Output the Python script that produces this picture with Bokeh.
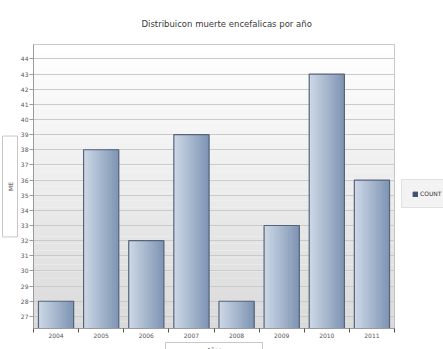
import numpy as np
from bokeh.plotting import figure
from bokeh.models import (Range1d, FixedTicker, Title, Legend, LegendItem)
from bokeh.embed import file_html
from bokeh.resources import INLINE

# ---- data ----
years = ["2004", "2005", "2006", "2007", "2008", "2009", "2010", "2011"]
counts = [28, 38, 32, 39, 28, 33, 43, 36]
y_ticks = list(range(27, 45))
title_text = "Distribuicon muerte encefalicas por año"
x_title = "Años"
y_title = "ME"
series_name = "COUNT"

FONT = "DejaVu Sans"
y_lo, y_hi = 26.2, 44.95
n = len(years)

p = figure(frame_width=361, frame_height=284, output_backend="svg", toolbar_location=None,
           x_range=Range1d(0, n), y_range=Range1d(y_lo, y_hi),
           min_border_left=33, min_border_right=49, min_border_top=44, min_border_bottom=21)
p.title.visible = False
p.background_fill_color = "#ffffff"
p.border_fill_color = "#ffffff"
p.outline_line_color = "#b8b8b8"

# background vertical gradient (style only)
nb = 40
edges = np.linspace(y_lo, y_hi, nb + 1)
cols = []
for k in range(nb):
    t = k / (nb - 1)  # 0 bottom, 1 top
    c = int(round(0xda + (0xff - 0xda) * t))
    cols.append("#%02x%02x%02x" % (c, c, c))
p.quad(left=[0] * nb, right=[n] * nb, bottom=edges[:-1], top=edges[1:],
       fill_color=cols, line_color=None, level="image")

# gradient bars: each strip runs from its left edge to the bar's right edge
centers = np.arange(n) + 0.5
bw = 0.78
ns = 16
light = np.array([0xcc, 0xd7, 0xe6])
dark = np.array([0x80, 0x96, 0xb5])
for s in range(ns):
    t = s / (ns - 1)
    col = light + (dark - light) * t
    color = "#%02x%02x%02x" % tuple(int(v) for v in col)
    left_edge = -bw / 2 + s * bw / ns
    width = bw / 2 - left_edge
    p.vbar(x=centers + left_edge + width / 2, width=width, bottom=y_lo, top=counts,
           fill_color=color, line_color=None)
p.vbar(x=centers, width=bw, bottom=y_lo, top=counts,
       fill_color=None, line_color="#56647a", line_width=1.2)
# legend swatch renderer (dark, zero width)
sw = p.vbar(x=centers, width=0, bottom=y_lo, top=y_lo, fill_color="#3e4f72",
            line_color="#3e4f72")

# axes
p.yaxis.ticker = FixedTicker(ticks=y_ticks)
p.ygrid.ticker = FixedTicker(ticks=y_ticks)
p.ygrid.grid_line_color = "#cacaca"
p.ygrid.level = "underlay"
p.xgrid.visible = False
p.yaxis.major_tick_in = 0
p.yaxis.major_tick_out = 4
p.yaxis.minor_tick_line_color = None
p.yaxis.axis_line_color = "#9a9a9a"
p.yaxis.major_tick_line_color = "#9a9a9a"
p.yaxis.major_label_text_font = FONT
p.yaxis.major_label_text_font_size = "6px"
p.yaxis.major_label_text_color = "#555555"
p.yaxis.major_label_standoff = 1
p.yaxis.axis_label_standoff = 0

p.xaxis.ticker = FixedTicker(ticks=list(centers), minor_ticks=list(range(n + 1)))
p.xaxis.major_label_overrides = {float(c): y for c, y in zip(centers, years)}
p.xaxis.major_tick_line_color = None
p.xaxis.major_tick_in = 0
p.xaxis.major_tick_out = 0
p.xaxis.minor_tick_in = 0
p.xaxis.minor_tick_out = 4
p.xaxis.minor_tick_line_color = "#555555"
p.xaxis.axis_line_color = "#9a9a9a"
p.xaxis.major_label_text_font = FONT
p.xaxis.major_label_text_font_size = "6px"
p.xaxis.major_label_text_color = "#555555"
p.xaxis.major_label_standoff = 0
p.xaxis.axis_label_standoff = 0

NB = "\u00a0"
# titles
p.add_layout(Title(text=title_text, align="left", offset=108, standoff=32,
                   text_font=FONT, text_font_size="8.5px", text_font_style="normal",
                   text_color="#3a3a3a"), "above")
p.add_layout(Title(text=NB * 22 + y_title + NB * 22, align="center", standoff=0,
                   text_font=FONT, text_font_size="6px", text_font_style="normal",
                   text_color="#555555", background_fill_color="#ffffff",
                   border_line_color="#c8c8c8", padding=4), "left")
p.add_layout(Title(text=NB * 20 + x_title + NB * 20, align="center", standoff=0,
                   text_font=FONT, text_font_size="6px", text_font_style="normal",
                   text_color="#555555", background_fill_color="#ffffff",
                   border_line_color="#c8c8c8", padding=3), "below")

legend = Legend(items=[LegendItem(label=series_name, renderers=[sw])],
                location=(7, 120), label_text_font=FONT, label_text_font_size="6px",
                label_text_color="#333333", glyph_width=6, glyph_height=6,
                label_standoff=2, padding=10, margin=0,
                background_fill_color="#f2f2f2", border_line_color="#d0d0d0")
p.add_layout(legend, "right")

open("out.html", "w").write(file_html(p, INLINE))
